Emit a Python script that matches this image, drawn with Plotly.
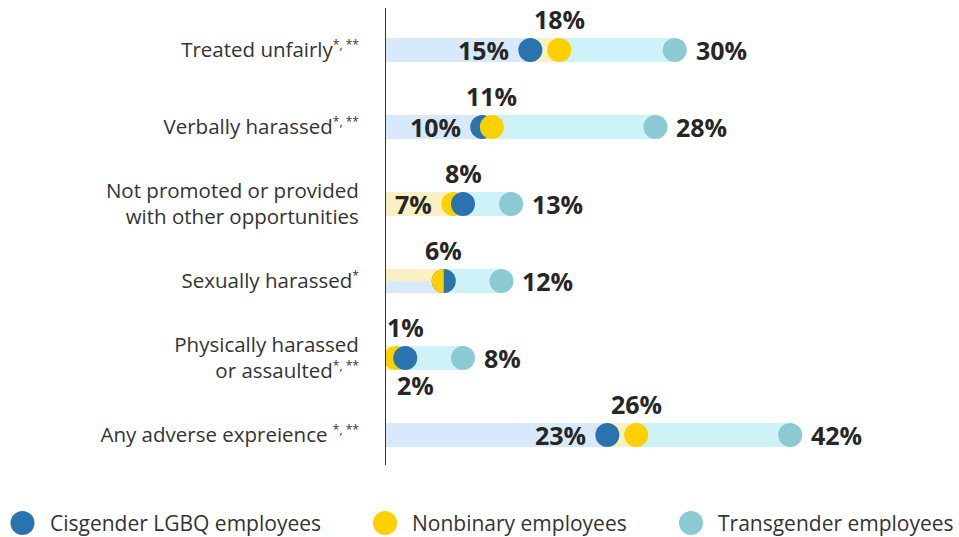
import plotly.graph_objects as go

# ---------------- data ----------------
SUP2 = "<sup><span style='font-size:12px'>*, **</span></sup>"
SUP1 = "<sup><span style='font-size:12px'>*</span></sup>"
categories = [
    "Treated unfairly" + SUP2,
    "Verbally harassed" + SUP2,
    "Not promoted or provided<br>with other opportunities",
    "Sexually harassed" + SUP1,
    "Physically harassed<br>or assaulted" + SUP2,
    "Any adverse expreience " + SUP2,
]
cisgender = [15, 10, 8, 6, 2, 23]
nonbinary = [18, 11, 7, 6, 1, 26]
transgender = [30, 28, 13, 12, 8, 42]
series_names = ["Cisgender LGBQ employees", "Nonbinary employees", "Transgender employees"]

# ---------------- style ----------------
FONT = "Open Sans"
DOT = ["#2974ae", "#ffd000", "#8bcad3"]
BAR = ["#d8e9fb", "#fbf0c2", "#cdf2f7"]
LABEL_COLOR = "#262626"
TEXT_COLOR = "#333333"
BAR_W = 0.312
MARKER = 24

series = [cisgender, nonbinary, transgender]
rows = list(range(len(categories)))

fig = go.Figure()

# bars: drawn by rank (largest behind, smallest in front)
ranked = []
for r in rows:
    order = sorted(range(3), key=lambda s: -series[s][r])
    ranked.append(order)

for rank in range(3):
    xs, ys, cols, widths, offs = [], [], [], [], []
    for r in rows:
        s = ranked[r][rank]
        split = cisgender[r] == nonbinary[r] and s in (0, 1)
        xs.append(series[s][r])
        ys.append(r)
        cols.append(BAR[s])
        if split:
            widths.append(BAR_W / 2)
            offs.append(-BAR_W / 2 if s == 1 else 0)
        else:
            widths.append(BAR_W)
            offs.append(-BAR_W / 2)
    fig.add_trace(go.Bar(orientation="h", x=xs, y=ys, width=widths, offset=offs,
                         marker=dict(color=cols, line=dict(width=0)),
                         hoverinfo="skip", showlegend=False))

# dots: drawn ascending (larger value on top)
for rank in range(3):
    xs, ys, cols = [], [], []
    for r in rows:
        order = sorted(range(3), key=lambda s: (series[s][r], -s))
        s = order[rank]
        xs.append(series[s][r])
        ys.append(r)
        cols.append(DOT[s])
    fig.add_trace(go.Scatter(x=xs, y=ys, mode="markers",
                             marker=dict(size=MARKER, color=cols, line=dict(width=0)),
                             hoverinfo="skip", showlegend=False))

# half-circle for equal values (nonbinary left half over cisgender)
k = 0.5523 * MARKER / 2
R = MARKER / 2
half_path = (f"M 0,{R} C {-k},{R} {-R},{k} {-R},0 C {-R},{-k} {-k},{-R} 0,{-R} Z")
for r in rows:
    if cisgender[r] == nonbinary[r]:
        fig.add_shape(type="path", xref="x", yref="y", xsizemode="pixel", ysizemode="pixel",
                      xanchor=nonbinary[r], yanchor=r, path=half_path,
                      fillcolor=DOT[1], line=dict(width=0), layer="above")

# value labels
def lab(x, y, pos, xs=0):
    kw = dict(x=x, y=y, xref="x", yref="y", text=f"{x}%", showarrow=False,
              font=dict(family=FONT, size=25, color=LABEL_COLOR, weight="bold"))
    if pos == "left":
        kw.update(xanchor="right", yanchor="middle", xshift=-19)
    elif pos == "right":
        kw.update(xanchor="left", yanchor="middle", xshift=19)
    elif pos == "above":
        kw.update(xanchor="center", yanchor="middle", yshift=31, xshift=xs)
    elif pos == "below":
        kw.update(xanchor="center", yanchor="middle", yshift=-27, xshift=xs)
    fig.add_annotation(**kw)

for r in rows:
    order = sorted(range(3), key=lambda s: series[s][r])
    lo, mid, hi = [series[s][r] for s in order]
    lab(hi, r, "right")
    if lo == mid:
        lab(mid, r, "above")
    elif lo < 4:
        lab(lo, r, "above", xs=10)
        lab(mid, r, "below", xs=10)
    else:
        lab(lo, r, "left")
        lab(mid, r, "above")

# custom legend
PLOT_L, PLOT_W, PLOT_T, PLOT_H = 386, 564, 8, 457
def px_x(px):
    return (px - PLOT_L) / PLOT_W
def px_y(py):
    return (PLOT_T + PLOT_H - py) / PLOT_H

leg_dot_x = [22.5, 385, 691]
leg_y = 523
for i, name in enumerate(series_names):
    fig.add_shape(type="circle", xref="paper", yref="paper", xsizemode="pixel", ysizemode="pixel",
                  xanchor=px_x(leg_dot_x[i]), yanchor=px_y(leg_y),
                  x0=-12, x1=12, y0=-12, y1=12, fillcolor=DOT[i], line=dict(width=0))
    fig.add_annotation(x=px_x(leg_dot_x[i] + 25), y=px_y(leg_y), xref="paper", yref="paper",
                       text=name, showarrow=False, xanchor="left", yanchor="middle",
                       font=dict(family=FONT, size=21, color=TEXT_COLOR))

fig.update_layout(
    width=959, height=537, autosize=False,
    margin=dict(l=386, r=9, t=8, b=72, autoexpand=False),
    paper_bgcolor="white", plot_bgcolor="white",
    barmode="overlay", bargap=0,
    showlegend=False,
    xaxis=dict(range=[0, 58.6], showgrid=False, zeroline=False, showticklabels=False,
               showline=False, ticks="", automargin=False),
    yaxis=dict(range=[5.39, -0.545], tickvals=rows, ticktext=categories, automargin=False,
               showgrid=False, zeroline=False, showline=True, linecolor="#333333", linewidth=1,
               ticks="outside", ticklen=22, tickcolor="rgba(0,0,0,0)",
               tickfont=dict(family=FONT, size=20.5, color=TEXT_COLOR)),
)

fig.write_html("out.html", config={"displayModeBar": False},
               post_script="document.body.style.margin='0';document.body.style.padding='0';"
                           "document.body.style.overflow='hidden';")
